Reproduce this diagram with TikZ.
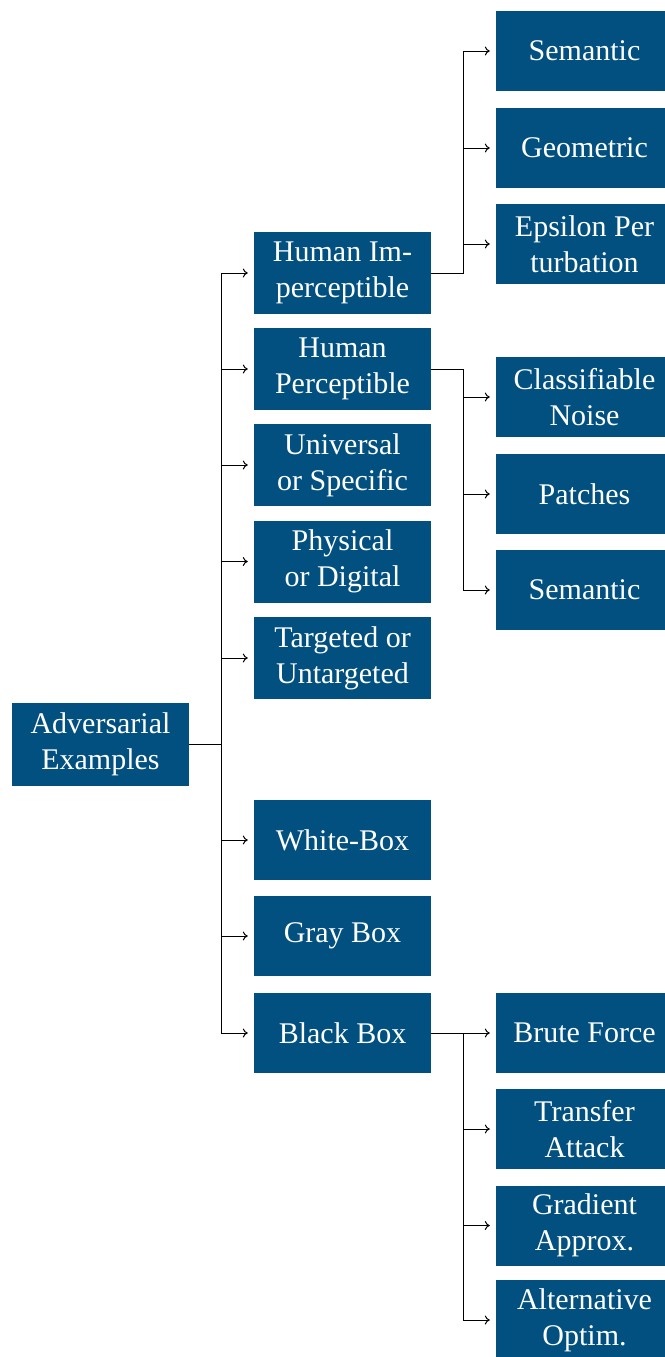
\documentclass[tikz,border=0pt]{standalone}
\usepackage{fontspec}
\setmainfont{Liberation Serif}
\usetikzlibrary{arrows.meta}
\definecolor{boxblue}{RGB}{2,80,127}
\begin{document}
\begin{tikzpicture}[x=1pt,y=-1pt,
  box/.style={fill=boxblue,text=white,align=center,font=\fontsize{30}{36}\selectfont,inner sep=0pt,anchor=center},
  midbox/.style={box,minimum width=177pt,minimum height=82pt},
  leafbox/.style={box,minimum width=177pt,minimum height=80pt},
  conn/.style={draw=black,line width=1pt,-{To[length=5pt,width=9pt]}}
]
\useasboundingbox (0,0) rectangle (664,1357);
% root
\node[box,minimum width=177pt,minimum height=83pt] (root) at (100.5,744) {Adversarial\\Examples};
% middle column
\node[midbox] (hi) at (342.5,273) {Human Im-\\perceptible};
\node[midbox] (hp) at (342.5,369) {Human\\Perceptible};
\node[midbox] (us) at (342.5,465) {Universal\\or Specific};
\node[midbox] (pd) at (342.5,561.5) {Physical\\or Digital};
\node[midbox] (tu) at (342.5,658) {Targeted or\\Untargeted};
\node[midbox,minimum height=80pt] (wb) at (342.5,840) {White-Box};
\node[midbox,minimum height=80pt] (gb) at (342.5,936) {Gray Box};
\node[midbox,minimum height=80pt] (bb) at (342.5,1033) {Black Box};
% leaves
\node[leafbox] (s1) at (584.5,51) {Semantic};
\node[leafbox] (geo) at (584.5,148) {Geometric};
\node[leafbox] (eps) at (584.5,244) {Epsilon Per\\turbation};
\node[leafbox] (cn) at (584.5,397) {Classifiable\\Noise};
\node[leafbox] (pa) at (584.5,494) {Patches};
\node[leafbox] (s2) at (584.5,590) {Semantic};
\node[leafbox] (bf) at (584.5,1033) {Brute Force};
\node[leafbox] (ta) at (584.5,1129) {Transfer\\Attack};
\node[leafbox] (ga) at (584.5,1225.5) {Gradient\\Approx.};
\node[leafbox] (ao) at (584.5,1320) {Alternative\\Optim.};
% connectors
\foreach \n in {hi,hp,us,pd,tu,wb,gb,bb}
  \draw[conn] (root.east) -- ++(32,0) |- ([xshift=-6pt]\n.west);
\foreach \n in {s1,geo,eps}
  \draw[conn] (hi.east) -- ++(32,0) |- ([xshift=-6pt]\n.west);
\foreach \n in {cn,pa,s2}
  \draw[conn] (hp.east) -- ++(32,0) |- ([xshift=-6pt]\n.west);
\foreach \n in {bf,ta,ga,ao}
  \draw[conn] (bb.east) -- ++(32,0) |- ([xshift=-6pt]\n.west);
\end{tikzpicture}
\end{document}
